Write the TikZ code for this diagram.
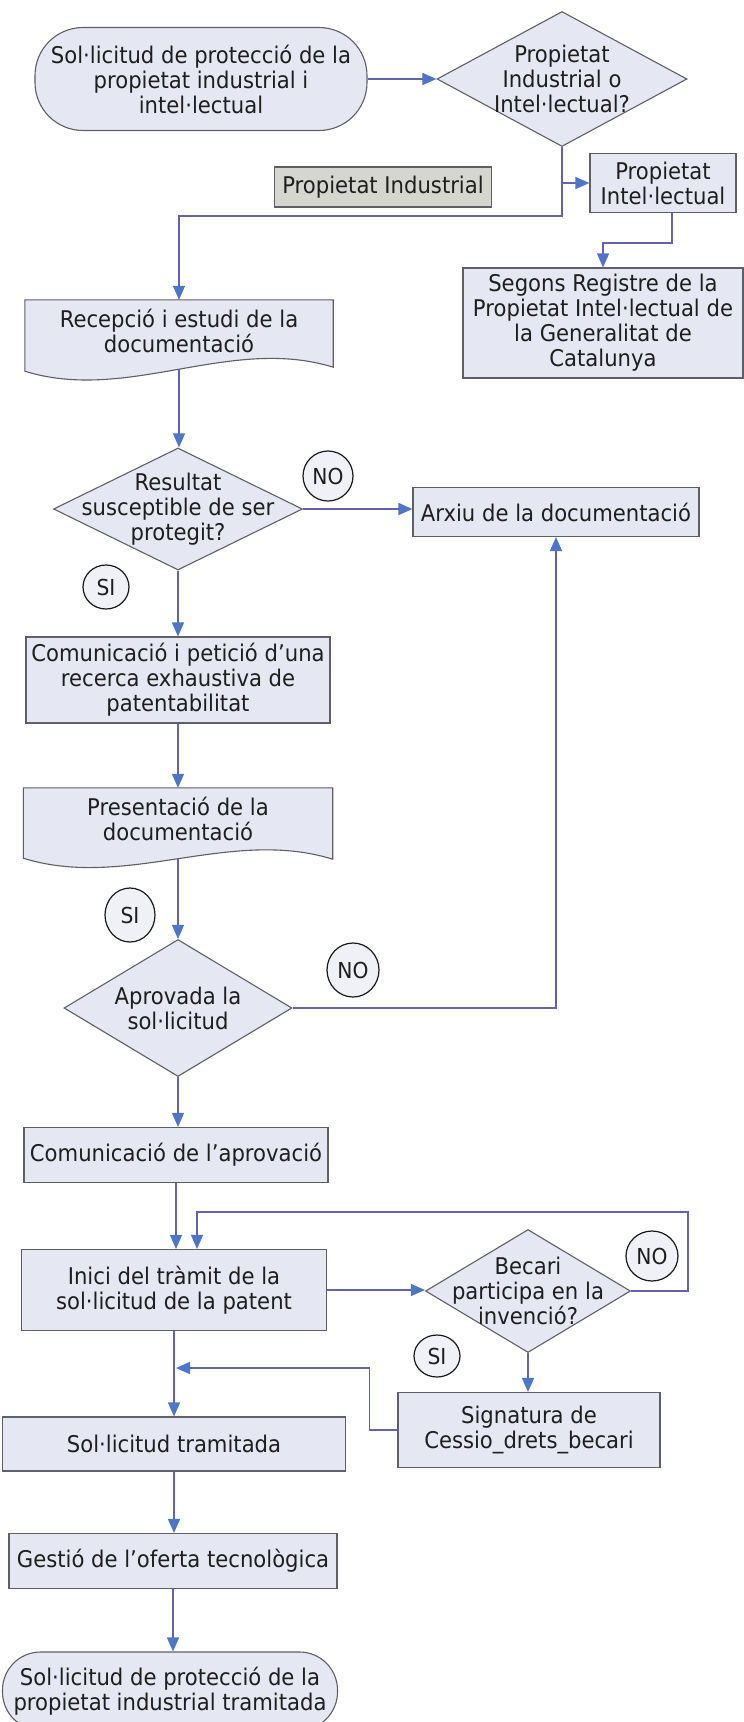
\documentclass[tikz,border=0pt]{standalone}
\usepackage{fontspec}
\setmainfont{DejaVu Sans}[FakeStretch=0.92]
\usetikzlibrary{shapes.geometric,arrows.meta,calc,backgrounds}
\definecolor{boxfill}{RGB}{229,232,242}
\definecolor{boxline}{RGB}{95,95,100}
\definecolor{linkcol}{RGB}{98,98,178}
\definecolor{tipcol}{RGB}{78,118,200}
\definecolor{grayfill}{RGB}{214,214,208}
\definecolor{ovalfill}{RGB}{240,241,246}
\definecolor{txtcol}{RGB}{30,30,30}
\begin{document}
\begin{tikzpicture}[x=1pt,y=-1pt,
  every node/.style={text=txtcol},
  mainfont/.style={font=\fontsize{23}{25}\selectfont},
  box/.style={rectangle,draw=boxline,fill=boxfill,line width=1.1pt,align=center,inner sep=0pt,mainfont},
  term/.style={box,rounded corners=#1},
  docnode/.style={rectangle,align=center,inner sep=0pt,mainfont},
  docshape/.style={draw=boxline,fill=boxfill,line width=1.1pt},
  dia/.style={diamond,draw=boxline,fill=boxfill,line width=1.1pt,inner sep=0pt},
  dtext/.style={align=center,inner sep=0pt,mainfont},
  oval/.style={ellipse,draw=black!90,fill=ovalfill,line width=1.2pt,inner sep=0pt,font=\fontsize{22}{24}\selectfont},
  arr/.style={draw=linkcol,line width=1.3pt,-{Triangle[length=14pt,width=12pt,color=tipcol]}}
]
\useasboundingbox (0,0) rectangle (744,1722);
\begin{scope}[on background layer]
  \fill[white] (0,0) rectangle (744,1722);
\end{scope}

% ---- nodes ----
\node[term=48, minimum width=332, minimum height=103] (start) at (201,79)
  {Sol·licitud de protecció de la\\propietat industrial i\\intel·lectual};
\node[dia, minimum width=250, minimum height=135] (d1) at (562,79) {};
\node[dtext] (d1t) at (562,79) {Propietat\\Industrial o\\Intel·lectual?};
\node[box, fill=grayfill, minimum width=217, minimum height=40] (pind) at (383,187) {Propietat Industrial};
\node[box, minimum width=146, minimum height=59] (pint) at (663,183) {Propietat\\Intel·lectual};
\node[box, minimum width=280, minimum height=110] (segons) at (603,323)
  {Segons Registre de la\\Propietat Intel·lectual de\\la Generalitat de\\Catalunya};

\node[docnode, minimum width=308, minimum height=61] (recep) at (179,330.5)
  {Recepció i estudi de la\\documentació};
\coordinate (recepb) at ($(recep.south)+(0,8)$);

\node[dia, minimum width=249, minimum height=122] (d2) at (178,509) {};
\node[dtext] (d2t) at (178,509) {Resultat\\susceptible de ser\\protegit?};
\node[oval, minimum width=50, minimum height=50] (no1) at (328,476) {NO};
\node[box, minimum width=286, minimum height=49] (arxiu) at (556,512) {Arxiu de la documentació};
\node[oval, minimum width=46, minimum height=44] (si1) at (106,587) {SI};

\node[box, minimum width=304, minimum height=86] (comun) at (178,680)
  {Comunicació i petició d’una\\recerca exhaustiva de\\patentabilitat};

\node[docnode, minimum width=309, minimum height=62] (present) at (178,819)
  {Presentació de la\\documentació};
\coordinate (presentb) at ($(present.south)+(0,9)$);
\node[oval, minimum width=50, minimum height=54] (si2) at (130,915) {SI};

\node[dia, minimum width=228, minimum height=137] (d3) at (178,1008) {};
\node[dtext] (d3t) at (178,1008) {Aprovada la\\sol·licitud};
\node[oval, minimum width=52, minimum height=54] (no2) at (353,970) {NO};

\node[box, minimum width=304, minimum height=55] (comapr) at (176,1155) {Comunicació de l’aprovació};

\node[box, minimum width=305, minimum height=81] (inici) at (174,1290)
  {Inici del tràmit de la\\sol·licitud de la patent};
\node[dia, minimum width=205, minimum height=123] (d4) at (528,1291) {};
\node[dtext] (d4t) at (528,1291) {Becari\\participa en la\\invenció?};
\node[oval, minimum width=52, minimum height=50] (no3) at (652,1256) {NO};
\node[oval, minimum width=46, minimum height=42] (si3) at (437,1356) {SI};
\node[box, minimum width=262, minimum height=75] (sign) at (529,1430)
  {Signatura de\\Cessio\_drets\_becari};

\node[box, minimum width=343, minimum height=54] (soltram) at (174,1444) {Sol·licitud tramitada};
\node[box, minimum width=328, minimum height=55] (gestio) at (173,1561) {Gestió de l’oferta tecnològica};
\node[term=38, minimum width=335, minimum height=78] (end) at (170,1691)
  {Sol·licitud de protecció de la\\propietat industrial tramitada};

% ---- document shapes ----
\begin{scope}[on background layer]
  \path[docshape] (recep.north west) -- (recep.north east) -- ($(recep.south east)+(0,6)$)
    .. controls ($(recep.south east)+(-103,-26)$) and ($(recep.south west)+(103,42)$)
    .. ($(recep.south west)+(0,10)$) -- cycle;
  \path[docshape] (present.north west) -- (present.north east) -- ($(present.south east)+(0,9)$)
    .. controls ($(present.south east)+(-103,-23)$) and ($(present.south west)+(103,40)$)
    .. ($(present.south west)+(0,8)$) -- cycle;
\end{scope}

% ---- connectors ----
\draw[arr] (start.east) -- (d1.west);
\draw[arr] (d1.south) -- ++(0,69) -| (recep.north);
\draw[arr] (d1.south |- pint.west) -- (pint.west);
\draw[arr] ([xshift=9pt]pint.south) -- ++(0,30) -| (segons.north);
\draw[arr] (recepb) -- (recepb |- d2.north);
\draw[arr] (d2.east) -- (d2.east -| arxiu.west);
\draw[arr] (d2.south) -- (comun.north);
\draw[arr] (comun.south) -- (present.north);
\draw[arr] (presentb) -- (presentb |- d3.north);
\draw[arr] (d3.east) -| (arxiu.south);
\draw[arr] (d3.south) -- (d3.south |- comapr.north);
\draw[arr] (comapr.south) -- (comapr.south |- inici.north);
\coordinate (loopR) at (688,1212);
\coordinate (loopL) at (197,1212);
\draw[arr] (d4.east) -| (loopR) -- (loopL) -- (loopL |- inici.north);
\draw[arr] (inici.east) -- (inici.east -| d4.west);
\draw[arr] (d4.south) -- (d4.south |- sign.north);
\coordinate (fb) at (176,1368);
\draw[arr] (sign.west) -- ++(-28,0) |- (fb);
\draw[arr] (inici.south) -- (inici.south |- soltram.north);
\draw[arr] (soltram.south) -- (soltram.south |- gestio.north);
\draw[arr] (gestio.south) -- (gestio.south |- end.north);
\end{tikzpicture}
\end{document}
